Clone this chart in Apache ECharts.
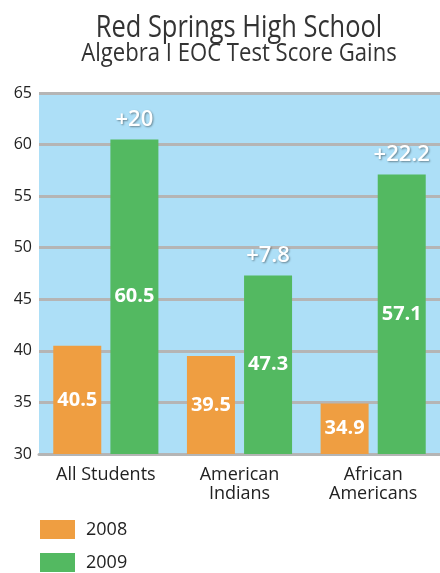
<!DOCTYPE html>
<html>
<head>
<meta charset="utf-8">
<title>Red Springs High School</title>
<script src="https://cdn.jsdelivr.net/npm/echarts@6/dist/echarts.min.js"></script>
<style>
  html, body { margin: 0; padding: 0; background: #fff; }
  #chart { width: 440px; height: 573px; }
</style>
</head>
<body>
<div id="chart"></div>
<script>
  // chart data
  const categories = ['All Students', 'American\nIndians', 'African\nAmericans']
  const years = ['2008', '2009']
  const scores2008 = [40.5, 39.5, 34.9]
  const scores2009 = [60.5, 47.3, 57.1]
  const yTicks = [30, 35, 40, 45, 50, 55, 60, 65]

  const orange = '#EF9E41'
  const green = '#53B961'
  const bodyFont = '"Open Sans", "Noto Sans", sans-serif'

  // gain = 2009 - 2008
  const gains = scores2009.map((v, i) => '+' + Math.round((v - scores2008[i]) * 10) / 10)

  const barLabel = {
    show: true,
    position: 'inside',
    color: '#fff',
    fontFamily: bodyFont,
    fontWeight: 'bold',
    fontSize: 20
  }

  // condensed-looking title lines (no narrow font installed, so squeeze them)
  const titleText = (text, y, size, sx) => ({
    type: 'text',
    x: 239,
    y: y,
    scaleX: sx,
    style: {
      text: text,
      fill: '#333',
      font: 'normal ' + size + 'px "Open Sans", sans-serif',
      textAlign: 'center',
      textVerticalAlign: 'middle',
      align: 'center',
      verticalAlign: 'middle'
    }
  })

  const chart = echarts.init(document.getElementById('chart'))
  chart.setOption({
    animation: false,
    graphic: [
      titleText('Red Springs High School', 28, 31, 0.82),
      titleText('Algebra I EOC Test Score Gains', 54, 26, 0.85)
    ],
    legend: {
      data: years,
      orient: 'vertical',
      left: 40,
      top: 520,
      padding: 0,
      icon: 'rect',
      itemWidth: 35,
      itemHeight: 19,
      itemGap: 14,
      selectedMode: false,
      textStyle: { fontFamily: bodyFont, fontSize: 18, color: '#222', padding: [0, 0, 0, 6] }
    },
    grid: {
      left: 39,
      top: 93,
      width: 411,
      bottom: 119,
      show: true,
      backgroundColor: '#ADDFF7',
      borderWidth: 0
    },
    xAxis: [{
      type: 'category',
      data: categories,
      axisTick: { show: false },
      axisLine: { lineStyle: { color: '#B5B5B5', width: 3 } },
      axisLabel: { fontFamily: bodyFont, fontSize: 18, color: '#222', lineHeight: 19, margin: 11 }
    }, {
      type: 'category',
      data: categories,
      show: false
    }],
    yAxis: {
      type: 'value',
      min: yTicks[0],
      max: yTicks[yTicks.length - 1],
      interval: 5,
      axisLine: { show: false },
      axisTick: { show: false },
      axisLabel: { fontFamily: bodyFont, fontSize: 16, color: '#222', margin: 7 },
      splitLine: { lineStyle: { color: '#B5B5B5', width: 3 } }
    },
    series: [{
      name: years[0],
      type: 'bar',
      data: scores2008,
      barWidth: 48,
      barGap: '19%',
      itemStyle: { color: orange },
      label: barLabel
    }, {
      name: years[1],
      type: 'bar',
      data: scores2009,
      barWidth: 48,
      barGap: '19%',
      itemStyle: { color: green },
      label: barLabel
    }, {
      // placeholder so the gain labels line up with the 2009 bars
      name: 'spacer',
      type: 'bar',
      xAxisIndex: 1,
      data: scores2008,
      barWidth: 48,
      barGap: '19%',
      silent: true,
      itemStyle: { color: 'transparent' }
    }, {
      name: 'gain',
      type: 'bar',
      xAxisIndex: 1,
      data: scores2009,
      barWidth: 48,
      barGap: '19%',
      silent: true,
      itemStyle: { color: 'transparent' },
      label: {
        show: true,
        position: 'top',
        distance: 9,
        formatter: p => gains[p.dataIndex],
        color: '#fff',
        fontFamily: bodyFont,
        fontWeight: 600,
        fontSize: 22,
        textShadowColor: 'rgba(0,0,0,0.4)',
        textShadowBlur: 2,
        textShadowOffsetX: 1,
        textShadowOffsetY: 1
      }
    }]
  })
</script>
</body>
</html>
